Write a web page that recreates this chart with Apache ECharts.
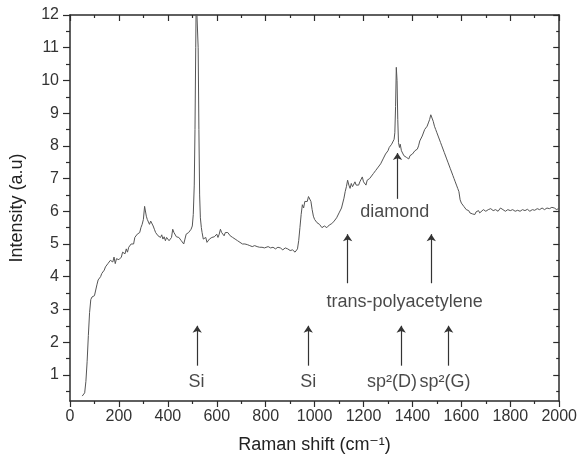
<!DOCTYPE html>
<html>
<head>
<meta charset="utf-8">
<script src="https://cdn.jsdelivr.net/npm/echarts@6/dist/echarts.min.js"></script>
<style>
    html, body { margin: 0; padding: 0; background: #fff; }
    #chart { width: 580px; height: 459px; }
</style>
</head>
<body>
<div id="chart"></div>
<script>
// Raman spectrum
const ramanShift = [
    50, 55, 60, 65, 70, 75, 80, 85, 90, 95, 100, 105,
    110, 115, 120, 125, 130, 135, 140, 145, 150, 155, 160, 165, 170, 175, 180, 185, 190, 195,
    200, 205, 210, 215, 220, 225, 230, 235, 240, 245, 250, 255, 260, 265, 270, 275, 280, 285, 290, 295,
    300, 305, 308, 312, 316, 320, 325, 330, 335, 340, 345, 350, 355, 360, 365, 370, 375, 380, 385, 390, 395,
    400, 405, 410, 415, 420, 425, 430, 435, 440, 445, 450, 455, 460, 465, 470, 475, 480, 485, 490, 495,
    500, 504, 508, 511, 514, 516, 522, 524, 527, 530, 533, 537, 540, 545, 550, 555, 560, 565, 570, 575, 580, 585, 590, 595,
    600, 605, 610, 615, 620, 625, 630, 635, 640, 645, 650, 655, 660, 665, 670, 675, 680, 685, 690, 695,
    700, 705, 710, 715, 720, 725, 730, 735, 740, 745, 750, 755, 760, 765, 770, 775, 780, 785, 790, 795,
    800, 810, 820, 830, 840, 850, 860, 870, 880, 890, 900, 910, 920, 925, 930, 935, 940, 945, 950, 955,
    960, 965, 970, 975, 980, 985, 990, 995, 1000, 1005, 1010, 1020, 1030, 1040, 1050, 1060, 1070, 1080, 1090,
    1100, 1110, 1120, 1125, 1130, 1135, 1140, 1145, 1150, 1155, 1160, 1165, 1170, 1175, 1180, 1185, 1190, 1195,
    1200, 1205, 1210, 1215, 1220, 1225, 1230, 1240, 1250, 1260, 1270, 1280, 1290, 1300, 1305, 1310, 1315, 1320, 1325, 1328,
    1331, 1334, 1337, 1340, 1343, 1347, 1350, 1355, 1360, 1365, 1370, 1375, 1380, 1385, 1390, 1395,
    1400, 1405, 1410, 1415, 1420, 1425, 1430, 1435, 1440, 1445, 1450, 1455, 1460, 1465, 1470, 1475, 1480, 1485, 1490, 1495,
    1500, 1505, 1510, 1515, 1520, 1525, 1530, 1535, 1540, 1545, 1550, 1555, 1560, 1565, 1570, 1575, 1580, 1585, 1590, 1595,
    1600, 1605, 1610, 1615, 1620, 1625, 1630, 1635, 1640, 1645, 1650, 1655, 1660, 1665, 1670, 1675, 1680, 1690,
    1700, 1710, 1720, 1730, 1740, 1750, 1760, 1770, 1780, 1790, 1800, 1810, 1820, 1830, 1840, 1850, 1860, 1870, 1880, 1890,
    1900, 1910, 1920, 1930, 1940, 1950, 1960, 1970, 1980, 1990, 2000
];
const intensity = [
    0.35, 0.32, 0.45, 0.8, 1.4, 2.2, 2.9, 3.3, 3.38, 3.35, 3.42, 3.4,
    3.75, 3.9, 3.95, 4.0, 4.1, 4.15, 4.2, 4.3, 4.35, 4.4, 4.45, 4.5, 4.55, 4.45, 4.6, 4.4, 4.55, 4.5,
    4.52, 4.5, 4.6, 4.75, 4.8, 4.7, 4.85, 4.75, 4.9, 4.95, 5.0, 5.05, 5.0, 5.2, 5.15, 5.3, 5.25, 5.35, 5.5, 5.6,
    5.75, 6.15, 6.1, 5.85, 5.75, 5.8, 5.6, 5.7, 5.75, 5.55, 5.45, 5.35, 5.3, 5.25, 5.3, 5.2, 5.28, 5.15, 5.22, 5.1, 5.2,
    5.15, 5.1, 5.05, 5.2, 5.45, 5.35, 5.3, 5.22, 5.28, 5.2, 5.22, 5.1, 5.05, 5.0, 5.15, 5.3, 5.25, 5.35, 5.4, 5.45,
    5.55, 5.9, 6.8, 8.5, 11, 12.6, 12.6, 11, 8.5, 6.5, 5.8, 5.5, 5.35, 5.15, 5.1, 5.2, 5.05, 5.1, 5.15, 5.12, 5.2, 5.15, 5.22, 5.2,
    5.3, 5.2, 5.3, 5.45, 5.35, 5.4, 5.25, 5.35, 5.3, 5.35, 5.3, 5.25, 5.3, 5.2, 5.25, 5.15, 5.2, 5.1, 5.15, 5.05,
    5.1, 5.0, 5.05, 5.0, 5.05, 4.98, 5.02, 4.95, 5.0, 4.92, 4.98, 4.95, 5.0, 4.92, 4.95, 4.9, 4.95, 4.9, 4.92, 4.88,
    4.9, 4.92, 4.88, 4.9, 4.85, 4.9, 4.88, 4.82, 4.88, 4.85, 4.8, 4.82, 4.75, 4.72, 4.85, 5.1, 5.5, 5.9, 6.2, 6.1,
    6.3, 6.35, 6.3, 6.45, 6.4, 6.3, 6.05, 5.85, 5.75, 5.7, 5.65, 5.6, 5.5, 5.55, 5.5, 5.58, 5.62, 5.7, 5.8,
    5.95, 6.1, 6.4, 6.6, 6.75, 6.95, 6.8, 6.7, 6.85, 6.75, 6.8, 6.9, 6.8, 6.85, 6.8, 6.9, 6.95, 7.05,
    6.9, 6.85, 6.8, 6.95, 6.9, 7.0, 7.05, 7.15, 7.25, 7.35, 7.45, 7.6, 7.75, 7.85, 7.95, 8.0, 8.05, 8.1, 8.2, 8.4,
    9.2, 10.4, 10.0, 8.8, 8.1, 7.95, 8.05, 7.85, 7.8, 7.7, 7.75, 7.65, 7.7, 7.6, 7.7, 7.65,
    7.75, 7.7, 7.85, 7.8, 7.9, 8.0, 8.15, 8.1, 8.3, 8.35, 8.5, 8.45, 8.6, 8.7, 8.8, 8.95, 8.85, 8.75, 8.6, 8.5,
    8.4, 8.3, 8.25, 8.1, 8.0, 7.95, 7.8, 7.75, 7.6, 7.5, 7.45, 7.3, 7.25, 7.1, 7.0, 6.9, 6.8, 6.7, 6.6, 6.35,
    6.25, 6.2, 6.15, 6.1, 6.05, 6.0, 6.02, 5.95, 5.98, 5.92, 5.95, 5.9, 5.98, 5.95, 6.02, 5.95, 6.0, 6.05,
    6.0, 6.05, 6.08, 6.02, 6.05, 6.0, 6.1, 6.05, 6.0, 6.05, 6.02, 6.05, 6.0, 6.03, 6.0, 6.05, 6.02, 6.06, 6.0, 6.05,
    6.03, 6.08, 6.05, 6.1, 6.05, 6.1, 6.08, 6.12, 6.1, 6.05, 6.1
];

// axis ticks
const yMajor = [1, 2, 3, 4, 5, 6, 7, 8, 9, 10, 11, 12];
const yMinor = [0.5, 1.5, 2.5, 3.5, 4.5, 5.5, 6.5, 7.5, 8.5, 9.5, 10.5, 11.5];

// peak assignments (text and arrows, in data units)
const annoText = ['Si', 'Si', 'sp²(D)', 'sp²(G)', 'trans-polyacetylene', 'diamond'];
const annoX = [517, 974, 1316, 1533, 1368, 1328];
const annoY = [0.79, 0.79, 0.79, 0.79, 3.22, 5.98];
const arrowX = [520, 974, 1354, 1548, 1135, 1477, 1339];
const arrowFrom = [1.28, 1.28, 1.28, 1.28, 3.8, 3.8, 6.38];
const arrowTo = [2.5, 2.5, 2.5, 2.5, 5.3, 5.3, 7.78];

const FONT = '"Liberation Sans", Arial, "DejaVu Sans", sans-serif';
const AXIS_COLOR = '#2b2b2b';

const chart = echarts.init(document.getElementById('chart'));

const tickAxisY = (position, inside, values, length, showLine) => ({
    type: 'value',
    position: position,
    min: 0.2,
    max: 12,
    axisLine: { show: showLine, lineStyle: { color: AXIS_COLOR, width: 1.5 } },
    axisTick: { show: true, inside: inside, length: length, customValues: values, lineStyle: { color: AXIS_COLOR, width: 1.2 } },
    axisLabel: { show: false },
    splitLine: { show: false }
});

chart.setOption({
    animation: false,
    backgroundColor: '#fff',
    grid: {
        left: 63,
        right: 19,
        top: 15,
        bottom: 56
    },
    xAxis: [
        {
            type: 'value',
            position: 'bottom',
            min: 0,
            max: 2000,
            interval: 200,
            name: 'Raman shift (cm⁻¹)',
            nameLocation: 'middle',
            nameGap: 35,
            nameTextStyle: { fontFamily: FONT, fontSize: 18, color: '#222' },
            axisLine: { lineStyle: { color: AXIS_COLOR, width: 1.5 } },
            axisTick: { length: 6, lineStyle: { color: AXIS_COLOR, width: 1.2 } },
            minorTick: { show: true, splitNumber: 2, length: 3, lineStyle: { color: AXIS_COLOR, width: 1.2 } },
            axisLabel: { fontFamily: FONT, fontSize: 16, color: '#333', margin: 8, formatter: (v) => String(v) },
            splitLine: { show: false }
        },
        {
            type: 'value',
            position: 'top',
            min: 0,
            max: 2000,
            interval: 200,
            axisLine: { lineStyle: { color: AXIS_COLOR, width: 1.5 } },
            axisTick: { inside: true, length: 6, lineStyle: { color: AXIS_COLOR, width: 1.2 } },
            minorTick: { show: true, splitNumber: 2, length: 3, lineStyle: { color: AXIS_COLOR, width: 1.2 } },
            axisLabel: { show: false },
            splitLine: { show: false }
        }
    ],
    yAxis: [
        {
            type: 'value',
            position: 'left',
            min: 0.2,
            max: 12,
            name: 'Intensity (a.u)',
            nameLocation: 'middle',
            nameGap: 44,
            nameTextStyle: { fontFamily: FONT, fontSize: 18, color: '#222' },
            axisLine: { show: true, lineStyle: { color: AXIS_COLOR, width: 1.5 } },
            axisTick: { show: true, length: 7, customValues: yMajor, lineStyle: { color: AXIS_COLOR, width: 1.2 } },
            axisLabel: { customValues: yMajor, fontFamily: FONT, fontSize: 16, color: '#333', margin: 11 },
            splitLine: { show: false }
        },
        tickAxisY('left', false, yMinor, 4, false),
        tickAxisY('right', true, yMajor, 6, true),
        tickAxisY('right', true, yMinor, 3, false)
    ],
    series: [
        {
            name: 'spectrum',
            type: 'line',
            data: ramanShift.map((x, i) => [x, intensity[i]]),
            showSymbol: false,
            symbol: 'none',
            clip: true,
            lineStyle: { color: '#555', width: 1 },
            markLine: {
                silent: true,
                symbol: ['none', 'arrow'],
                symbolSize: 7,
                label: { show: false },
                lineStyle: { color: '#333', width: 1.2, type: 'solid' },
                data: arrowX.map((x, i) => [
                    { coord: [x, arrowFrom[i]] },
                    { coord: [x, arrowTo[i]] }
                ])
            }
        },
        {
            name: 'labels',
            type: 'scatter',
            symbolSize: 0,
            silent: true,
            data: annoX.map((x, i) => ({ value: [x, annoY[i]], name: annoText[i] })),
            label: {
                show: true,
                position: 'inside',
                formatter: '{b}',
                fontFamily: FONT,
                fontSize: 18,
                color: '#1a1a1a'
            }
        }
    ]
});
</script>
</body>
</html>
